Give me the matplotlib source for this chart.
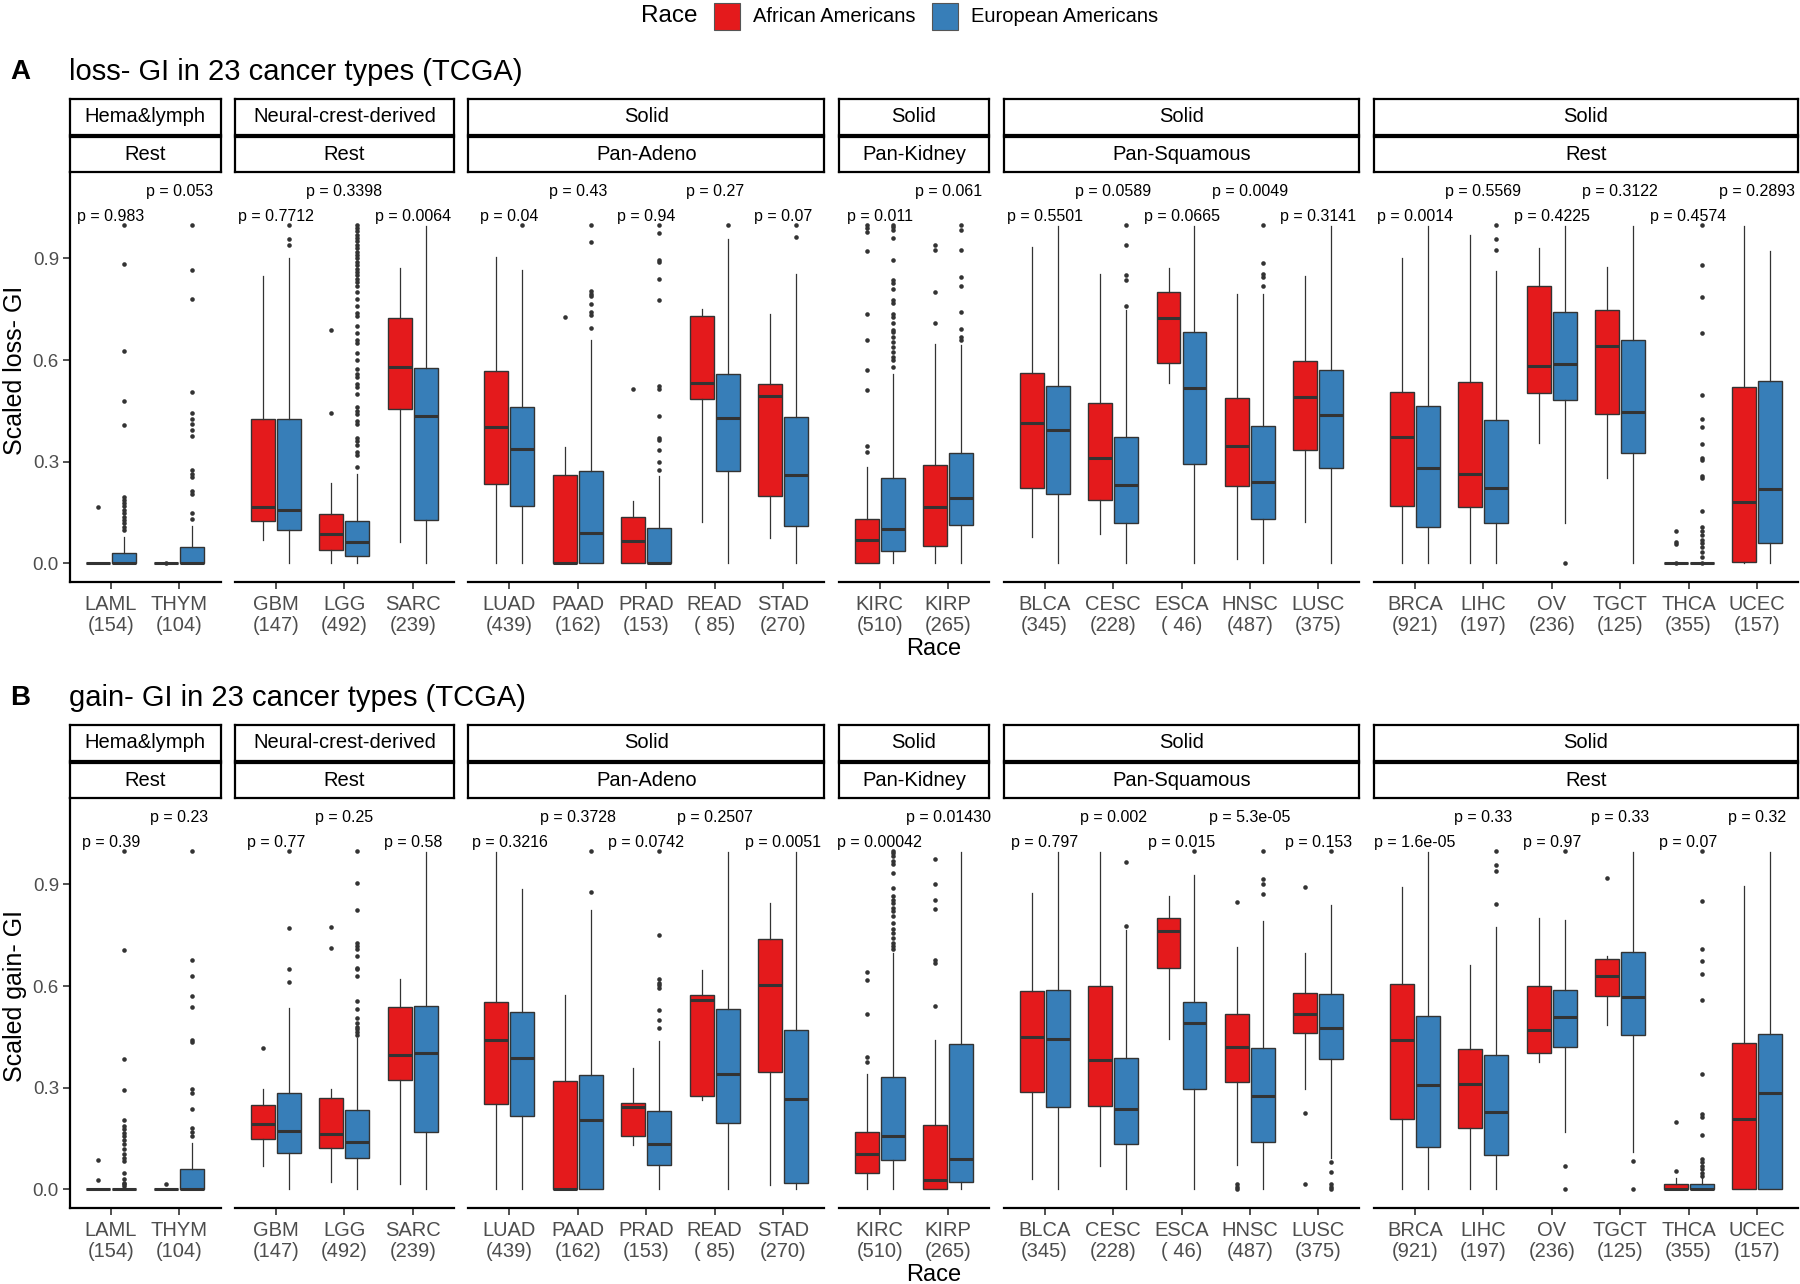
import matplotlib
matplotlib.use('Agg')
import matplotlib.pyplot as plt
from matplotlib.patches import Rectangle

plt.rcParams['font.family'] = ['Liberation Sans', 'DejaVu Sans']

RED = '#E41A1C'
BLUE = '#377EB8'
EDGE = '#333333'
GREY_TXT = '#4D4D4D'

CANCERS = ['LAML', 'THYM', 'GBM', 'LGG', 'SARC', 'LUAD', 'PAAD', 'PRAD', 'READ',
           'STAD', 'KIRC', 'KIRP', 'BLCA', 'CESC', 'ESCA', 'HNSC', 'LUSC', 'BRCA',
           'LIHC', 'OV', 'TGCT', 'THCA', 'UCEC']
COUNTS = [154, 104, 147, 492, 239, 439, 162, 153, 85, 270, 510, 265, 345, 228, 46,
          487, 375, 921, 197, 236, 125, 355, 157]
FACET_SIZES = [2, 3, 5, 2, 5, 6]
STRIP_TOP = ['Hema&lymph', 'Neural-crest-derived', 'Solid', 'Solid', 'Solid', 'Solid']
STRIP_BOTTOM = ['Rest', 'Rest', 'Pan-Adeno', 'Pan-Kidney', 'Pan-Squamous', 'Rest']

LOSS_P = ['0.983', '0.053', '0.7712', '0.3398', '0.0064', '0.04', '0.43', '0.94',
          '0.27', '0.07', '0.011', '0.061', '0.5501', '0.0589', '0.0665', '0.0049',
          '0.3141', '0.0014', '0.5569', '0.4225', '0.3122', '0.4574', '0.2893']
GAIN_P = ['0.39', '0.23', '0.77', '0.25', '0.58', '0.3216', '0.3728', '0.0742',
          '0.2507', '0.0051', '0.00042', '0.01430', '0.797', '0.002', '0.015',
          '5.3e-05', '0.153', '1.6e-05', '0.33', '0.97', '0.33', '0.07', '0.32']

# box stats: whisker low, q1, median, q3, whisker high
LOSS_AA = [
    [0, 0, 0, 0, 0], [0, 0, 0, 0, 0], [0.069, 0.125, 0.167, 0.425, 0.848],
    [0, 0.039, 0.086, 0.146, 0.238], [0.062, 0.455, 0.58, 0.725, 0.872],
    [0, 0.233, 0.401, 0.567, 0.903], [0, 0, 0, 0.261, 0.344],
    [0, 0, 0.066, 0.138, 0.185], [0.121, 0.484, 0.531, 0.731, 0.752],
    [0.076, 0.199, 0.495, 0.528, 0.737], [0, 0, 0.069, 0.130, 0.285],
    [0, 0.051, 0.165, 0.29, 0.646], [0.079, 0.221, 0.413, 0.563, 0.934],
    [0.086, 0.187, 0.312, 0.472, 0.853], [0.533, 0.592, 0.725, 0.801, 0.872],
    [0.012, 0.229, 0.347, 0.489, 0.796], [0.123, 0.334, 0.49, 0.597, 0.848],
    [0, 0.169, 0.372, 0.506, 0.9], [0, 0.167, 0.263, 0.536, 0.969],
    [0.354, 0.503, 0.582, 0.818, 0.932], [0.251, 0.442, 0.642, 0.749, 0.875],
    [0, 0, 0, 0, 0], [0, 0.005, 0.18, 0.521, 0.996],
]
LOSS_AA_OUT = [
    [0.167], [0.0], [], [0.445, 0.688], [], [], [0.726], [0.516], [], [],
    [0.329, 0.346, 0.511, 0.572, 0.659, 0.735, 0.922, 0.978, 0.99, 0.998],
    [0.708, 0.8, 0.926, 0.941], [], [], [], [], [], [], [], [], [],
    [0.0, 0.057, 0.064, 0.095], [],
]
LOSS_EA = [
    [0, 0, 0, 0.031, 0.079], [0, 0, 0, 0.047, 0.11], [0, 0.098, 0.157, 0.425, 0.902],
    [0, 0.023, 0.064, 0.126, 0.265], [0, 0.128, 0.436, 0.577, 0.996],
    [0, 0.17, 0.337, 0.462, 0.867], [0, 0.002, 0.091, 0.272, 0.659],
    [0, 0, 0.002, 0.105, 0.258], [0, 0.272, 0.428, 0.558, 0.957],
    [0, 0.111, 0.261, 0.431, 0.853], [0, 0.037, 0.101, 0.253, 0.56],
    [0, 0.113, 0.194, 0.326, 0.644], [0, 0.205, 0.395, 0.524, 0.996],
    [0, 0.12, 0.231, 0.372, 0.747], [0, 0.293, 0.518, 0.683, 0.996],
    [0, 0.131, 0.24, 0.406, 0.796], [0, 0.28, 0.438, 0.57, 0.996],
    [0, 0.108, 0.28, 0.464, 0.996], [0, 0.12, 0.221, 0.423, 0.863],
    [0.118, 0.482, 0.587, 0.742, 0.996], [0, 0.327, 0.447, 0.659, 0.996],
    [0, 0, 0, 0, 0], [0, 0.059, 0.219, 0.538, 0.922],
]
LOSS_EA_OUT = [
    [0.098, 0.108, 0.118, 0.128, 0.138, 0.148, 0.158, 0.168, 0.178, 0.188, 0.197,
     0.408, 0.48, 0.626, 0.883, 1.0],
    [0.13, 0.149, 0.204, 0.213, 0.256, 0.265, 0.275, 0.376, 0.395, 0.41, 0.425,
     0.444, 0.506, 0.779, 0.867, 1.0],
    [0.941, 0.956, 1.0],
    [0.285, 0.32, 0.33, 0.35, 0.36, 0.37, 0.41, 0.42, 0.44, 0.45, 0.46, 0.50, 0.52,
     0.53, 0.55, 0.56, 0.575, 0.60, 0.62, 0.65, 0.66, 0.68, 0.70, 0.73, 0.74, 0.76,
     0.78, 0.80, 0.82, 0.83, 0.84, 0.85, 0.86, 0.87, 0.88, 0.89, 0.90, 0.91, 0.92,
     0.93, 0.94, 0.95, 0.96, 0.97, 0.98, 0.99, 1.0],
    [], [1.0],
    [0.696, 0.733, 0.742, 0.764, 0.789, 0.796, 0.803, 0.949, 1.0],
    [0.277, 0.3, 0.336, 0.364, 0.371, 0.435, 0.516, 0.523, 0.777, 0.838, 0.89,
     0.895, 0.975, 1.0],
    [1.0], [0.964, 1.0],
    [0.58, 0.60, 0.61, 0.624, 0.639, 0.654, 0.669, 0.683, 0.688, 0.708, 0.728,
     0.737, 0.767, 0.777, 0.811, 0.826, 0.836, 0.895, 0.959, 0.983, 0.993, 1.0],
    [0.659, 0.669, 0.691, 0.742, 0.818, 0.846, 0.924, 0.985, 1.0],
    [], [0.76, 0.836, 0.852, 0.941, 1.0], [], [0.818, 0.846, 0.855, 0.885, 0.998],
    [], [], [0.924, 0.956, 1.0], [0.0], [],
    [0.0, 0.02, 0.034, 0.049, 0.059, 0.069, 0.084, 0.096, 0.106, 0.155, 0.253,
     0.258, 0.305, 0.312, 0.352, 0.403, 0.425, 0.497, 0.68, 0.785, 0.882, 1.0],
    [],
]

GAIN_AA = [
    [0, 0, 0, 0, 0], [0, 0, 0, 0, 0], [0.069, 0.149, 0.192, 0.249, 0.295],
    [0.022, 0.123, 0.164, 0.27, 0.295], [0.017, 0.323, 0.398, 0.538, 0.622],
    [0, 0.253, 0.44, 0.553, 0.996], [0, 0, 0, 0.32, 0.573],
    [0.13, 0.157, 0.244, 0.256, 0.359], [0.265, 0.277, 0.558, 0.573, 0.647],
    [0.012, 0.346, 0.603, 0.74, 0.844], [0, 0.049, 0.105, 0.17, 0.339],
    [0, 0, 0.027, 0.19, 0.44], [0.032, 0.288, 0.449, 0.585, 0.875],
    [0.069, 0.246, 0.381, 0.6, 0.996], [0.444, 0.654, 0.762, 0.801, 0.865],
    [0.071, 0.318, 0.42, 0.518, 0.716], [0.295, 0.46, 0.519, 0.58, 0.698],
    [0, 0.208, 0.44, 0.605, 0.893], [0, 0.182, 0.31, 0.413, 0.662],
    [0.376, 0.401, 0.469, 0.6, 0.801], [0.484, 0.57, 0.631, 0.681, 0.688],
    [0, 0, 0, 0.015, 0.034], [0, 0, 0.208, 0.433, 0.895],
]
GAIN_AA_OUT = [
    [0.028, 0.086], [0.015], [0.418], [0.713, 0.775], [], [], [], [], [], [],
    [0.377, 0.391, 0.519, 0.619, 0.642],
    [0.541, 0.669, 0.677, 0.828, 0.853, 0.902, 0.975],
    [], [], [], [0.0, 0.007, 0.015, 0.848], [0.017, 0.226, 0.893],
    [], [], [], [0.919], [0.054, 0.2], [],
]
GAIN_EA = [
    [0, 0, 0, 0, 0], [0, 0, 0.002, 0.059, 0.138], [0, 0.106, 0.172, 0.285, 0.536],
    [0, 0.093, 0.14, 0.234, 0.447], [0, 0.169, 0.403, 0.541, 0.996],
    [0, 0.216, 0.388, 0.523, 0.887], [0, 0, 0.205, 0.338, 0.823],
    [0, 0.072, 0.135, 0.231, 0.438], [0, 0.197, 0.339, 0.533, 0.996],
    [0, 0.018, 0.267, 0.469, 0.996], [0, 0.088, 0.157, 0.331, 0.698],
    [0, 0.022, 0.09, 0.43, 0.996], [0, 0.243, 0.445, 0.587, 0.996],
    [0, 0.133, 0.236, 0.388, 0.764], [0, 0.297, 0.49, 0.553, 0.929],
    [0, 0.141, 0.277, 0.416, 0.792], [0.093, 0.385, 0.475, 0.578, 0.839],
    [0, 0.126, 0.308, 0.511, 0.996], [0, 0.1, 0.229, 0.396, 0.774],
    [0.169, 0.42, 0.509, 0.587, 0.794], [0.111, 0.457, 0.568, 0.7, 0.996],
    [0, 0, 0, 0.015, 0.034], [0, 0, 0.283, 0.459, 0.996],
]
GAIN_EA_OUT = [
    [0.01, 0.015, 0.02, 0.03, 0.049, 0.084, 0.093, 0.103, 0.118, 0.133, 0.146,
     0.157, 0.167, 0.177, 0.187, 0.206, 0.293, 0.386, 0.705, 1.0],
    [0.157, 0.169, 0.182, 0.238, 0.285, 0.295, 0.435, 0.44, 0.538, 0.57, 0.631,
     0.676, 1.0],
    [0.612, 0.649, 0.77, 1.0],
    [0.457, 0.465, 0.472, 0.48, 0.49, 0.506, 0.533, 0.557, 0.631, 0.649, 0.654,
     0.688, 0.708, 0.718, 0.728, 0.823, 0.903, 1.0],
    [], [], [0.879, 1.0],
    [0.475, 0.5, 0.528, 0.593, 0.602, 0.61, 0.622, 0.752, 1.0],
    [], [],
    [0.708, 0.718, 0.728, 0.742, 0.757, 0.767, 0.787, 0.806, 0.821, 0.831, 0.846,
     0.855, 0.865, 0.89, 0.934, 0.959, 0.969, 0.983, 0.993, 1.0],
    [], [], [0.777, 0.966], [1.0], [0.873, 0.902, 0.917, 1.0],
    [0.0, 0.007, 0.015, 0.052, 0.081, 1.0], [], [0.843, 0.941, 0.957, 1.0],
    [0.0, 0.069, 1.0], [0.0, 0.084],
    [0.039, 0.049, 0.059, 0.069, 0.081, 0.09, 0.159, 0.213, 0.223, 0.339, 0.56,
     0.636, 0.674, 0.708, 0.851, 1.0],
    [],
]

W, H = 1800, 1284
LEFT, RIGHT, GAP = 70, 1798, 14.5


def px_axes(fig, x0, y0, x1, y1):
    return fig.add_axes([x0 / W, 1 - y1 / H, (x1 - x0) / W, (y1 - y0) / H])


def strip(fig, x0, x1, y0, y1, label):
    s = px_axes(fig, x0, y0, x1, y1)
    s.set_xticks([])
    s.set_yticks([])
    for sp in s.spines.values():
        sp.set_linewidth(1.6)
        sp.set_color('black')
    s.text(0.5, 0.5, label, ha='center', va='center', fontsize=14.5,
           transform=s.transAxes)


def box_stats(box, out):
    lo, q1, med, q3, hi = box
    return dict(whislo=lo, q1=q1, med=med, q3=q3, whishi=hi, fliers=out)


def draw_boxes(ax, pos, stats, color):
    ax.bxp(stats, positions=pos, widths=0.35, patch_artist=True, showcaps=False,
           manage_ticks=False,
           boxprops=dict(facecolor=color, edgecolor=EDGE, linewidth=1.0),
           medianprops=dict(color=EDGE, linewidth=2.2),
           whiskerprops=dict(color=EDGE, linewidth=0.9),
           flierprops=dict(marker='o', markersize=3.3, markerfacecolor=EDGE,
                           markeredgecolor='none'))


def draw_panel(fig, top, letter, title, ylabel, aa, aa_out, ea, ea_out, pvals):
    fig.text(10 / W, 1 - (top - 27) / H, letter, fontsize=20, fontweight='bold',
             va='center', ha='left')
    fig.text(69 / W, 1 - (top - 27) / H, title, fontsize=21, va='center', ha='left')
    panel_top, panel_bot = top + 73, top + 483
    unit = (RIGHT - LEFT - GAP * (len(FACET_SIZES) - 1)) / \
        (sum(FACET_SIZES) + 0.2 * len(FACET_SIZES))
    x = LEFT
    start = 0
    for f, n in enumerate(FACET_SIZES):
        w = unit * (n + 0.2)
        strip(fig, x, x + w, top, top + 35.5, STRIP_TOP[f])
        strip(fig, x, x + w, top + 37.5, panel_top, STRIP_BOTTOM[f])
        ax = px_axes(fig, x, panel_top, x + w, panel_bot)
        idx = list(range(start, start + n))
        cats = [i + 1 for i in range(n)]
        draw_boxes(ax, [c - 0.19 for c in cats],
                   [box_stats(aa[i], aa_out[i]) for i in idx], RED)
        draw_boxes(ax, [c + 0.19 for c in cats],
                   [box_stats(ea[i], ea_out[i]) for i in idx], BLUE)
        for k, i in enumerate(idx):
            yv = 1.025 if k % 2 == 0 else 1.097
            ax.text(cats[k], yv, 'p = ' + pvals[i], ha='center', va='center',
                    fontsize=11.5)
        ax.set_xlim(0.4, n + 0.6)
        ax.set_ylim(-0.055, 1.155)
        ax.set_xticks(cats)
        ax.set_xticklabels([f'{CANCERS[i]}\n({COUNTS[i]:>3})' for i in idx],
                           fontsize=14.5, color=GREY_TXT, linespacing=1.15)
        ax.tick_params(axis='x', length=5, width=1.2, color=EDGE, pad=4)
        for sp in ('top', 'right'):
            ax.spines[sp].set_visible(False)
        ax.spines['bottom'].set_linewidth(1.6)
        ax.set_facecolor('none')
        if f == 0:
            ax.spines['left'].set_linewidth(1.6)
            ax.set_yticks([0.0, 0.3, 0.6, 0.9])
            ax.set_yticklabels(['0.0', '0.3', '0.6', '0.9'], fontsize=13.5,
                               color=GREY_TXT)
            ax.tick_params(axis='y', length=5, width=1.2, color=EDGE, pad=3)
        else:
            ax.spines['left'].set_visible(False)
            ax.set_yticks([])
        x += w + GAP
        start += n
    fig.text(15 / W, 1 - (panel_top + panel_bot - 14) / 2 / H, ylabel,
             rotation=90, fontsize=18, va='center', ha='center')
    fig.text((LEFT + RIGHT) / 2 / W, 1 - (panel_bot + 67) / H, 'Race',
             fontsize=17, ha='center', va='center')


def main():
    fig = plt.figure(figsize=(W / 100, H / 100), dpi=100)

    # legend
    fig.text(641 / W, 1 - 16 / H, 'Race', fontsize=17.5, va='center', ha='left')
    for x0, color, label in [(714, RED, 'African Americans'),
                             (932, BLUE, 'European Americans')]:
        fig.patches.append(Rectangle((x0 / W, 1 - 30 / H), 26 / W, 27 / H,
                                     transform=fig.transFigure, facecolor=color,
                                     edgecolor='#555555', linewidth=0.8))
        fig.text((x0 + 39) / W, 1 - 16 / H, label, fontsize=14.5, va='center',
                 ha='left')

    draw_panel(fig, 99, 'A', 'loss- GI in 23 cancer types (TCGA)', 'Scaled loss- GI',
               LOSS_AA, LOSS_AA_OUT, LOSS_EA, LOSS_EA_OUT, LOSS_P)
    draw_panel(fig, 725, 'B', 'gain- GI in 23 cancer types (TCGA)', 'Scaled gain- GI',
               GAIN_AA, GAIN_AA_OUT, GAIN_EA, GAIN_EA_OUT, GAIN_P)

    fig.savefig('out.png', dpi=100)


if __name__ == '__main__':
    main()
